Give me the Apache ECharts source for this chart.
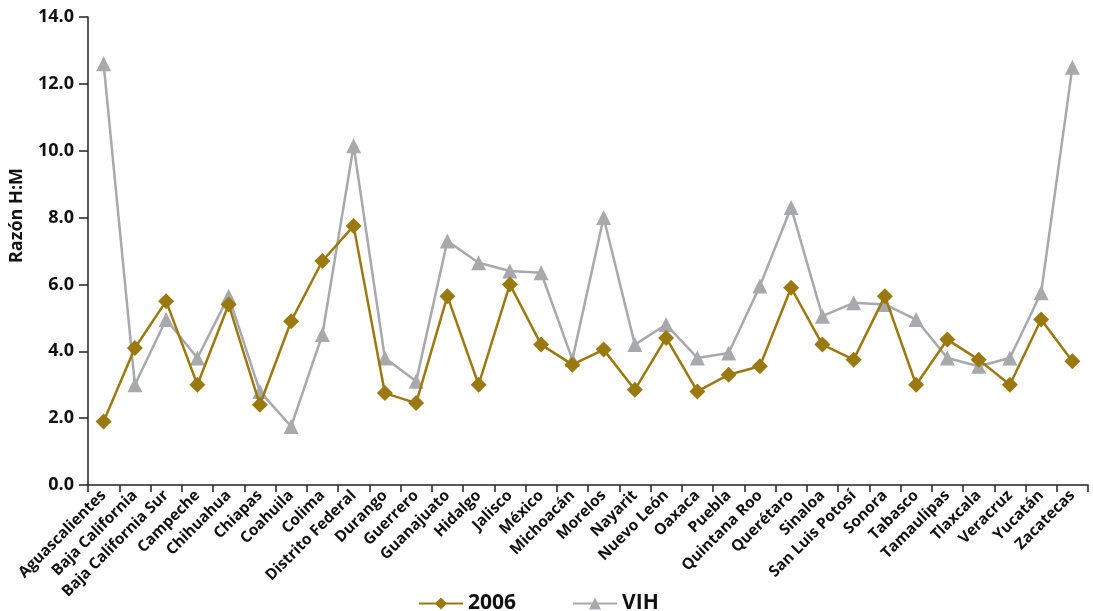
<!DOCTYPE html>
<html><head><meta charset="utf-8">
<script src="https://cdn.jsdelivr.net/npm/echarts@6/dist/echarts.min.js"></script>
<style>html,body{margin:0;padding:0;background:#fff}#c{width:1093px;height:611px}</style>
</head><body><div id="c"></div>
<script>
const categories = ["Aguascalientes","Baja California","Baja California Sur","Campeche","Chihuahua","Chiapas","Coahuila","Colima","Distrito Federal","Durango","Guerrero","Guanajuato","Hidalgo","Jalisco","México","Michoacán","Morelos","Nayarit","Nuevo León","Oaxaca","Puebla","Quintana Roo","Querétaro","Sinaloa","San Luis Potosí","Sonora","Tabasco","Tamaulipas","Tlaxcala","Veracruz","Yucatán","Zacatecas"];
const s2006 = [1.9,4.1,5.5,3.0,5.4,2.4,4.9,6.7,7.75,2.75,2.45,5.65,3.0,6.0,4.2,3.6,4.05,2.85,4.4,2.8,3.3,3.55,5.9,4.2,3.75,5.65,3.0,4.35,3.75,3.0,4.95,3.7];
const sVIH = [12.6,3.0,4.95,3.8,5.65,2.8,1.75,4.5,10.15,3.8,3.1,7.3,6.65,6.4,6.35,3.75,8.0,4.2,4.8,3.8,3.95,5.95,8.3,5.05,5.45,5.4,4.95,3.8,3.55,3.8,5.75,12.5];
const yTicks = {min:0, max:14, interval:2};
const seriesNames = ["2006","VIH"];
const yTitle = "Razón H:M";

const chart = echarts.init(document.getElementById('c'));
const font = "'Open Sans', sans-serif";
chart.setOption({
  animation:false,
  grid:{left:88,right:5,top:17,bottom:126,containLabel:false},
  legend:{
    data:seriesNames, top:588, left:413, itemWidth:44, itemHeight:15, itemGap:56,
    textStyle:{fontFamily:font,fontWeight:'bold',fontSize:21,color:'#111'}
  },
  graphic:[{type:'text',left:8,top:168,rotation:Math.PI/2,
    style:{text:yTitle,font:"bold 18px 'Open Sans', sans-serif",fill:'#111'}}],
  xAxis:{
    type:'category', data:categories, boundaryGap:true,
    axisLine:{lineStyle:{color:'#222',width:1.5}},
    axisTick:{show:true,length:7,lineStyle:{color:'#222',width:1.5}},
    axisLabel:{rotate:45,interval:0,margin:8,fontFamily:font,fontWeight:'bold',fontSize:15.5,color:'#111'}
  },
  yAxis:{
    type:'value', min:yTicks.min, max:yTicks.max, interval:yTicks.interval,
    axisLine:{show:true,lineStyle:{color:'#222',width:1.5}},
    axisTick:{show:true,length:9,lineStyle:{color:'#222',width:1.5}},
    splitLine:{show:false},
    axisLabel:{formatter:v=>v.toFixed(1),margin:14,fontFamily:font,fontWeight:'bold',fontSize:18,color:'#111'}
  },
  series:[
    {name:seriesNames[1],type:'line',data:sVIH,symbol:'triangle',symbolSize:15,
     lineStyle:{color:'#A7A9AC',width:2.5},itemStyle:{color:'#A7A9AC'},z:2},
    {name:seriesNames[0],type:'line',data:s2006,symbol:'diamond',symbolSize:16,
     lineStyle:{color:'#9A7A10',width:2.5},itemStyle:{color:'#9A7A10'},z:3}
  ]
});
</script></body></html>
